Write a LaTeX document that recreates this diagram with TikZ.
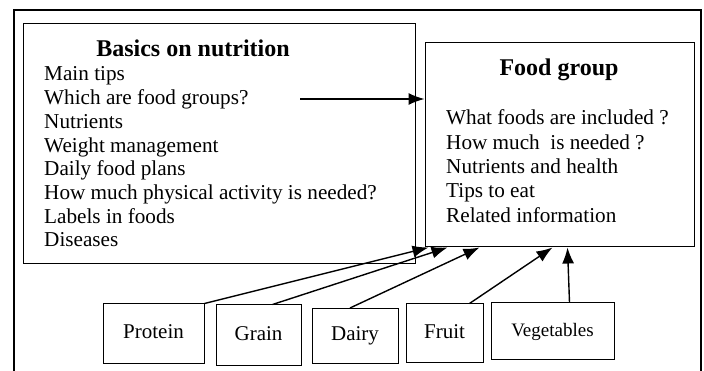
\documentclass[tikz,border=0pt]{standalone}
\usepackage{fontspec}
\setmainfont{Liberation Serif}
\usetikzlibrary{arrows.meta}

\begin{document}
\begin{tikzpicture}%
        [x=1pt, y=-1pt,
        frame/.style={line width=1.6pt},
        box/.style={draw, line width=1pt, inner sep=0pt},
        group/.style={box, font=\fontsize{21}{25}\selectfont,
            text height=14pt, text depth=4pt},
        item/.style={anchor=base west, inner sep=0pt,
            font=\fontsize{21.2}{25}\selectfont},
        title/.style={anchor=base, inner sep=0pt,
            font=\fontsize{24}{28}\selectfont\bfseries},
        link/.style={line width=1.4pt, -{Latex[length=16pt,width=12pt]}}]
    %
    \useasboundingbox (0,0) rectangle (704,371);
    %% Drawing the outer frame (open at the bottom)
    \draw[frame] (14,380) -- (14,10) -- (701,10) -- (701,380);
    %%
    %% Drawing the two main boxes
    %%
    \node[box, minimum width=392pt, minimum height=240pt] (basics) at (219,144) {};
    \node[box, minimum width=269pt, minimum height=204pt] (foodgroup) at (559.5,145) {};
    %% Basics on nutrition
    \node[title] (basicstitle) at (193,57) {Basics on nutrition};
    \foreach \txt [count=\i] in {Main tips, Which are food groups?, Nutrients,
        Weight management, Daily food plans,
        How much physical activity is needed?, Labels in foods, Diseases}
        \node[item] (basics\i) at (44,{81+23.7*(\i-1)}) {\txt};
    %% Food group
    \node[title] (foodtitle) at (559,76) {Food group};
    \foreach \txt [count=\i] in {What foods are included ?, How much\ \ is needed ?,
        Nutrients and health, Tips to eat, Related information}
        \node[item] (food\i) at (446,{125+24.3*(\i-1)}) {\txt};
    %%
    %% Drawing the groups
    %%
    \node[group, minimum width=101pt, minimum height=59pt] (protein) at (153.5,333.5) {Protein};
    \node[group, minimum width=85pt, minimum height=60pt] (grain) at (258.5,335) {Grain};
    \node[group, minimum width=86pt, minimum height=55pt] (dairy) at (355,336) {Dairy};
    \node[group, minimum width=77pt, minimum height=58pt] (fruit) at (444.5,333) {Fruit};
    \node[group, minimum width=123pt, minimum height=56pt,
        font=\fontsize{19}{23}\selectfont] (vegetables) at (552.5,331) {Vegetables};
    %%
    %% Arrows
    \coordinate (linkstart) at (300,99);
    \draw[link] (linkstart) -- (linkstart -| foodgroup.west);
    \draw[link] (protein.north east) -- ([xshift=4pt]foodgroup.south west);
    \draw[link] ([xshift=14pt]grain.north) -- ([xshift=23pt]foodgroup.south west);
    \draw[link] ([xshift=-5pt]dairy.north) -- ([xshift=55pt]foodgroup.south west);
    \draw[link] ([xshift=25pt]fruit.north) -- ([xshift=128pt]foodgroup.south west);
    \draw[link] ([xshift=17pt]vegetables.north) -- ([xshift=143pt]foodgroup.south west);
    %%
    \end{tikzpicture}
\end{document}
